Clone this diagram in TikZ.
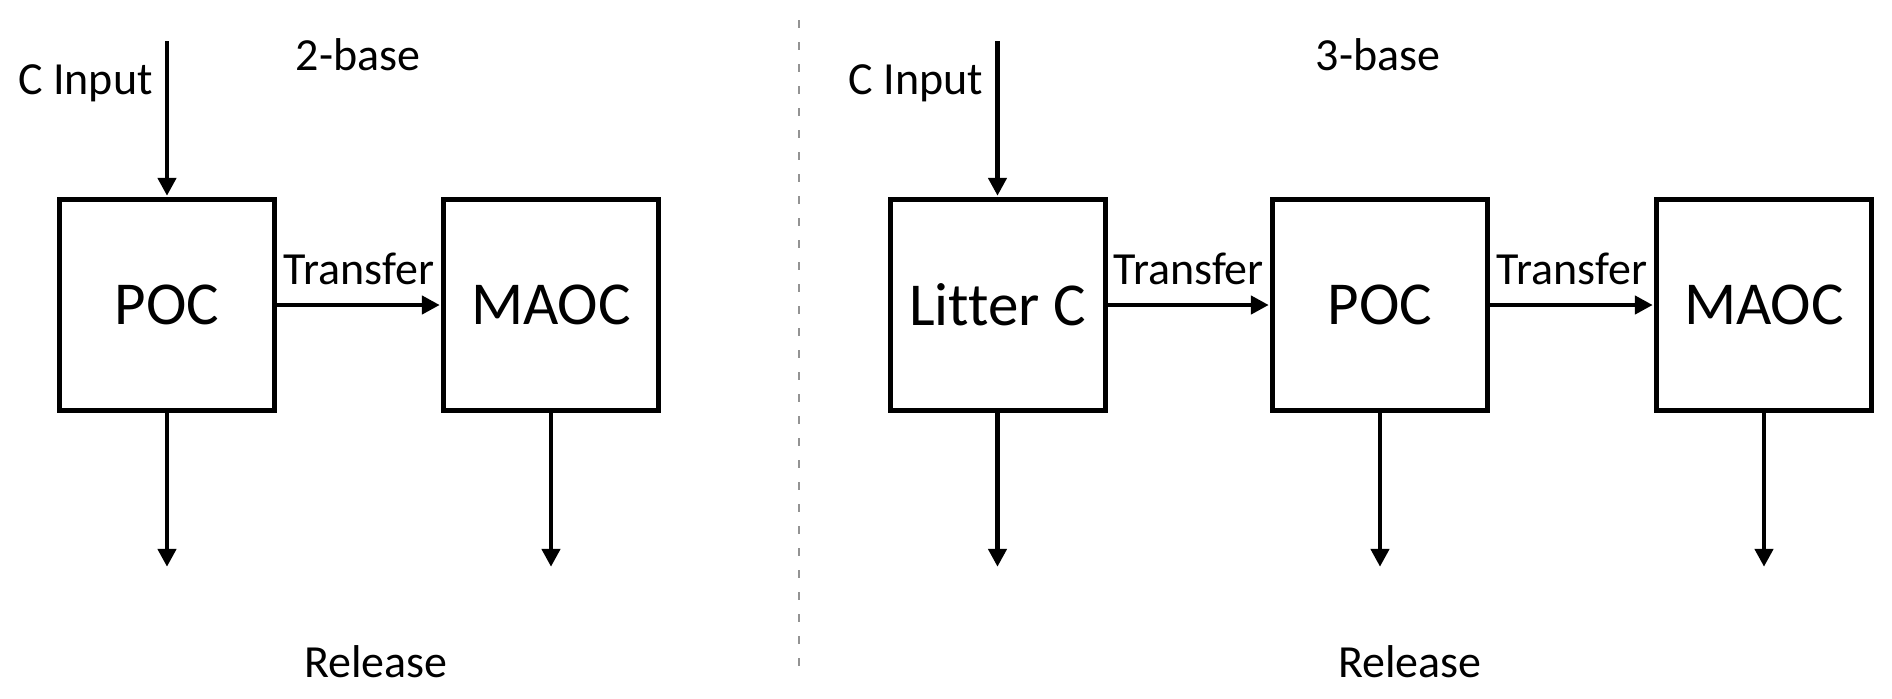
\documentclass[tikz,border=0pt]{standalone}
\usepackage{fontspec}
\setmainfont{Carlito}[Ligatures=NoCommon]
\usetikzlibrary{arrows.meta}
\begin{document}
\begin{tikzpicture}[x=0.5pt,y=-0.5pt,
  pool/.style={draw=black, line width=2.5pt, minimum width=107.5pt, minimum height=105.5pt, inner sep=0pt, font=\fontsize{30.5}{36}\selectfont},
  lbl/.style={font=\fontsize{23}{27}\selectfont, inner sep=0pt, anchor=base},
  flow/.style={line width=2.4pt, -{Triangle[length=9pt,width=9pt]}, shorten >=0.6pt},
  divider/.style={draw=gray!85, line width=0.75pt, dash pattern=on 4pt off 7pt}]
\useasboundingbox (0,0) rectangle (1892,698);
% left: 2-base
\node[pool] (poc1) at (167,305) {POC};
\node[pool] (maoc1) at (551,305) {MAOC};
\coordinate (in1) at (167,41);
\coordinate (out1) at (167,568);
\coordinate (out2) at (551,568);
\node[lbl] (cin1) at (85.5,94) {C Input};
\node[lbl] (t2) at (358,70) {2-base};
\node[lbl] (rel1) at (376,677) {Release};
\draw[flow] (in1) -- (poc1.north);
\draw[flow] (poc1.east) -- node[lbl, above=9pt] (tr1) {Transfer} (maoc1.west);
\draw[flow] (poc1.south) -- (out1);
\draw[flow] (maoc1.south) -- (out2);
% divider
\coordinate (d1) at (799,20);
\coordinate (d2) at (799,678);
\draw[divider] (d1) -- (d2);
% right: 3-base
\node[pool] (lit) at (997.5,305) {Litter C};
\node[pool] (poc2) at (1380,305) {POC};
\node[pool] (maoc2) at (1764,305) {MAOC};
\coordinate (in2) at (997.5,41);
\coordinate (out3) at (997.5,568);
\coordinate (out4) at (1380,568);
\coordinate (out5) at (1764,568);
\node[lbl] (cin2) at (916,94) {C Input};
\node[lbl] (t3) at (1378,70) {3-base};
\node[lbl] (rel2) at (1410,677) {Release};
\draw[flow] (in2) -- (lit.north);
\draw[flow] (lit.east) -- node[lbl, above=9pt] (tr2) {Transfer} (poc2.west);
\draw[flow] (poc2.east) -- node[lbl, above=9pt] (tr3) {Transfer} (maoc2.west);
\draw[flow] (lit.south) -- (out3);
\draw[flow] (poc2.south) -- (out4);
\draw[flow] (maoc2.south) -- (out5);
\end{tikzpicture}
\end{document}
